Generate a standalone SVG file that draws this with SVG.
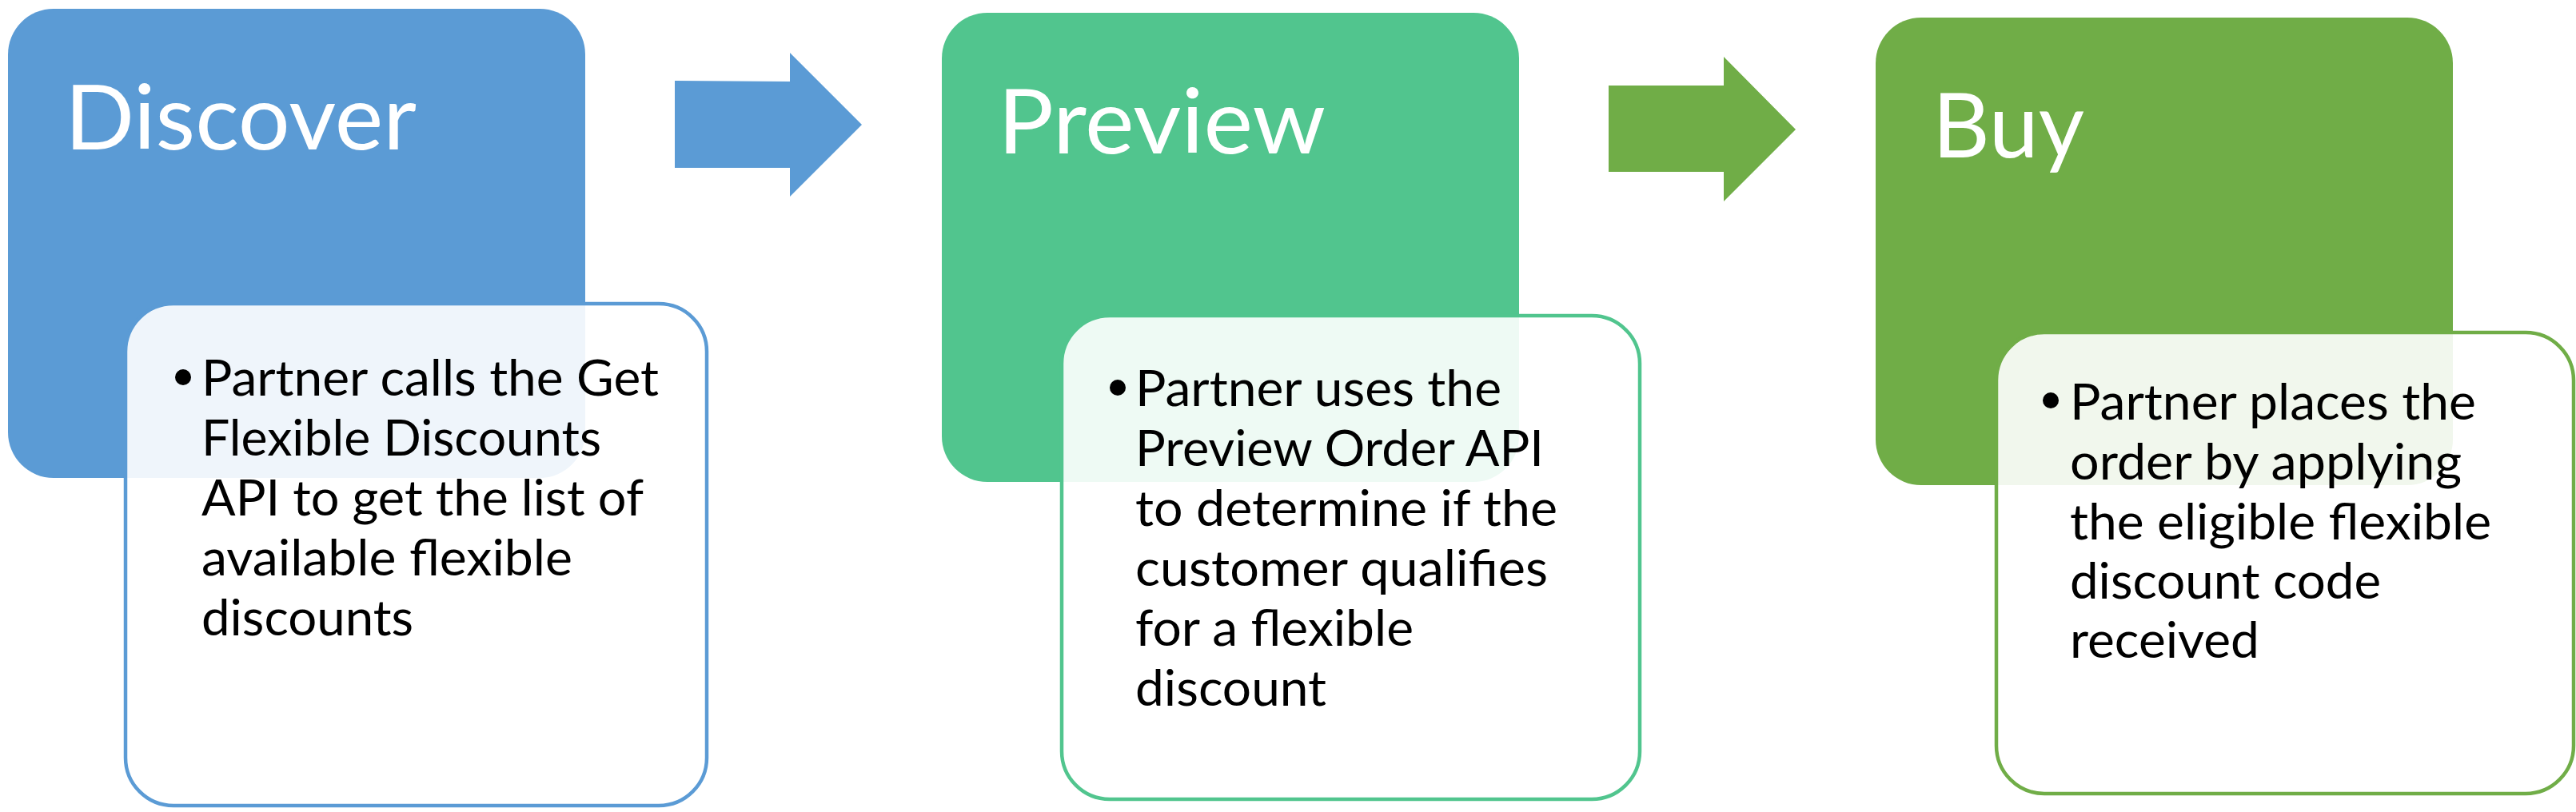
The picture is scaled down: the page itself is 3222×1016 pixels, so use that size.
<svg xmlns="http://www.w3.org/2000/svg" width="3222" height="1016" viewBox="0 0 3222 1016">
<style>
  .title { font-family: Lato, "Open Sans", "Noto Sans", sans-serif; font-size: 113px; fill: #FFFFFF; }
  .body { font-family: Lato, "Open Sans", "Noto Sans", sans-serif; font-size: 62px; fill: #000000; }
  .card { fill: #FFFFFF; fill-opacity: 0.9; stroke-width: 4.5; }
  .blue { fill: #5B9BD5; }
  .teal { fill: #51C58E; }
  .green { fill: #70AD47; }
</style>
<rect width="3222" height="1016" fill="#FFFFFF"/>

<g id="connectors">
  <polygon id="arrow-discover-preview" class="blue" points="844,101 988,102 988,66 1078,156 988,246 988,210 844,210"/>
  <polygon id="arrow-preview-buy" class="green" points="2012,107 2156,107 2156,71 2246,162 2156,252 2156,215 2012,215"/>
</g>

<g id="node-discover">
  <rect x="10" y="11" width="722" height="587" rx="57" ry="57" class="blue"/>
  <text class="title" x="81" y="187" textLength="440" lengthAdjust="spacingAndGlyphs">Discover</text>
  <rect x="157" y="380" width="727" height="628" rx="60" ry="60" class="card" stroke="#5B9BD5"/>
  <circle cx="229" cy="472" r="10"/>
  <text class="body" x="252" y="495" textLength="572" lengthAdjust="spacingAndGlyphs">Partner calls the Get</text>
  <text class="body" x="252" y="570" textLength="500" lengthAdjust="spacingAndGlyphs">Flexible Discounts</text>
  <text class="body" x="252" y="645" textLength="553" lengthAdjust="spacingAndGlyphs">API to get the list of</text>
  <text class="body" x="252" y="720" textLength="464" lengthAdjust="spacingAndGlyphs">available flexible</text>
  <text class="body" x="252" y="795" textLength="265" lengthAdjust="spacingAndGlyphs">discounts</text>
</g>

<g id="node-preview">
  <rect x="1178" y="16" width="722" height="587" rx="57" ry="57" class="teal"/>
  <text class="title" x="1248" y="192" textLength="410" lengthAdjust="spacingAndGlyphs">Preview</text>
  <rect x="1328" y="395" width="723" height="605" rx="60" ry="60" class="card" stroke="#51C58E"/>
  <circle cx="1398" cy="485" r="10"/>
  <text class="body" x="1420" y="508" textLength="458" lengthAdjust="spacingAndGlyphs">Partner uses the</text>
  <text class="body" x="1420" y="583" textLength="511" lengthAdjust="spacingAndGlyphs">Preview Order API</text>
  <text class="body" x="1420" y="658" textLength="528" lengthAdjust="spacingAndGlyphs">to determine if the</text>
  <text class="body" x="1420" y="733" textLength="516" lengthAdjust="spacingAndGlyphs">customer qualifies</text>
  <text class="body" x="1420" y="808" textLength="348" lengthAdjust="spacingAndGlyphs">for a flexible</text>
  <text class="body" x="1420" y="883" textLength="239" lengthAdjust="spacingAndGlyphs">discount</text>
</g>

<g id="node-buy">
  <rect x="2346" y="22" width="722" height="585" rx="57" ry="57" class="green"/>
  <text class="title" x="2417" y="197" textLength="190" lengthAdjust="spacingAndGlyphs">Buy</text>
  <rect x="2497" y="416" width="722" height="577" rx="60" ry="60" class="card" stroke="#70AD47"/>
  <circle cx="2565" cy="501" r="10"/>
  <text class="body" x="2589" y="525" textLength="508" lengthAdjust="spacingAndGlyphs">Partner places the</text>
  <text class="body" x="2589" y="600" textLength="490" lengthAdjust="spacingAndGlyphs">order by applying</text>
  <text class="body" x="2589" y="675" textLength="527" lengthAdjust="spacingAndGlyphs">the eligible flexible</text>
  <text class="body" x="2589" y="749" textLength="389" lengthAdjust="spacingAndGlyphs">discount code</text>
  <text class="body" x="2589" y="823" textLength="237" lengthAdjust="spacingAndGlyphs">received</text>
</g>
</svg>
